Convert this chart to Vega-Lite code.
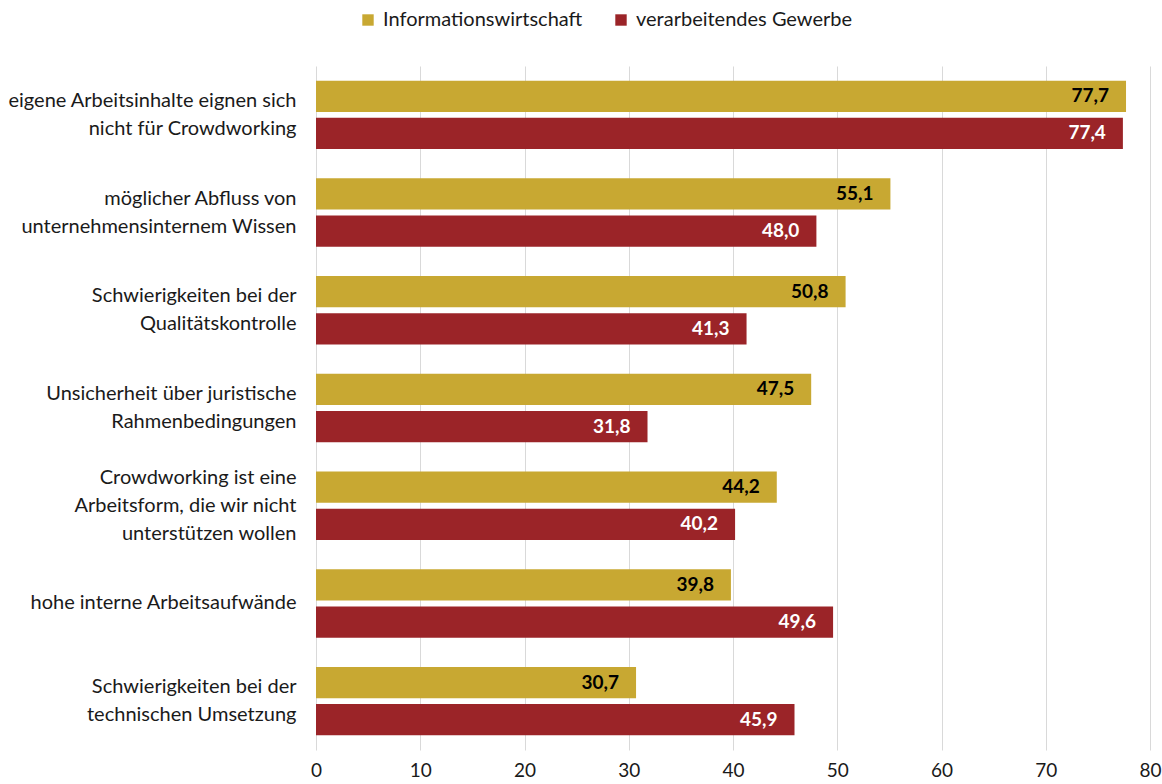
{
  "$schema": "https://vega.github.io/schema/vega-lite/v6.json",
  "autosize": {"type": "none"},
  "width": 834,
  "height": 684,
  "padding": {"left": 316, "top": 66, "right": 12, "bottom": 34},
  "background": "white",
  "config": {
    "font": "Lato",
    "view": {"stroke": null},
    "locale": {
      "number": {"decimal": ",", "thousands": ".", "grouping": [3], "currency": ["", " €"]}
    }
  },
  "data": {
    "values": [
      {"kategorie": "eigene Arbeitsinhalte eignen sich|nicht für Crowdworking", "gruppe": "Informationswirtschaft", "wert": 77.7},
      {"kategorie": "eigene Arbeitsinhalte eignen sich|nicht für Crowdworking", "gruppe": "verarbeitendes Gewerbe", "wert": 77.4},
      {"kategorie": "möglicher Abfluss von|unternehmensinternem Wissen", "gruppe": "Informationswirtschaft", "wert": 55.1},
      {"kategorie": "möglicher Abfluss von|unternehmensinternem Wissen", "gruppe": "verarbeitendes Gewerbe", "wert": 48.0},
      {"kategorie": "Schwierigkeiten bei der|Qualitätskontrolle", "gruppe": "Informationswirtschaft", "wert": 50.8},
      {"kategorie": "Schwierigkeiten bei der|Qualitätskontrolle", "gruppe": "verarbeitendes Gewerbe", "wert": 41.3},
      {"kategorie": "Unsicherheit über juristische|Rahmenbedingungen", "gruppe": "Informationswirtschaft", "wert": 47.5},
      {"kategorie": "Unsicherheit über juristische|Rahmenbedingungen", "gruppe": "verarbeitendes Gewerbe", "wert": 31.8},
      {"kategorie": "Crowdworking ist eine|Arbeitsform, die wir nicht|unterstützen wollen", "gruppe": "Informationswirtschaft", "wert": 44.2},
      {"kategorie": "Crowdworking ist eine|Arbeitsform, die wir nicht|unterstützen wollen", "gruppe": "verarbeitendes Gewerbe", "wert": 40.2},
      {"kategorie": "hohe interne Arbeitsaufwände", "gruppe": "Informationswirtschaft", "wert": 39.8},
      {"kategorie": "hohe interne Arbeitsaufwände", "gruppe": "verarbeitendes Gewerbe", "wert": 49.6},
      {"kategorie": "Schwierigkeiten bei der|technischen Umsetzung", "gruppe": "Informationswirtschaft", "wert": 30.7},
      {"kategorie": "Schwierigkeiten bei der|technischen Umsetzung", "gruppe": "verarbeitendes Gewerbe", "wert": 45.9}
    ]
  },
  "encoding": {
    "y": {
      "field": "kategorie",
      "type": "nominal",
      "sort": null,
      "scale": {"paddingInner": 0.3, "paddingOuter": 0.15},
      "axis": {
        "title": null,
        "ticks": false,
        "domain": false,
        "labelPadding": 20,
        "labelFontSize": 20,
        "labelColor": "#1a1a1a",
        "labelLineHeight": 28,
        "labelLimit": 320,
        "labelExpr": "split(datum.label, '|')",
        "labelOffset": {
          "condition": [
            {"test": "length(split(datum.value, '|')) >= 3", "value": -28},
            {"test": "length(split(datum.value, '|')) == 2", "value": -14}
          ],
          "value": 0
        }
      }
    },
    "yOffset": {
      "field": "gruppe",
      "type": "nominal",
      "sort": ["Informationswirtschaft", "verarbeitendes Gewerbe"],
      "scale": {"paddingInner": 0.16, "paddingOuter": 0}
    },
    "x": {
      "field": "wert",
      "type": "quantitative",
      "scale": {"domain": [0, 80], "nice": false},
      "axis": {
        "title": null,
        "values": [0, 10, 20, 30, 40, 50, 60, 70, 80],
        "grid": true,
        "gridColor": "#d9d9d9",
        "gridWidth": 1,
        "domain": false,
        "ticks": false,
        "labelFlush": false,
        "labelPadding": 11,
        "labelFontSize": 19,
        "labelColor": "#1a1a1a"
      }
    }
  },
  "layer": [
    {
      "mark": {"type": "bar"},
      "encoding": {
        "color": {
          "field": "gruppe",
          "type": "nominal",
          "sort": ["Informationswirtschaft", "verarbeitendes Gewerbe"],
          "scale": {"domain": ["Informationswirtschaft", "verarbeitendes Gewerbe"], "range": ["#C8A832", "#9B2428"]},
          "legend": {
            "title": null,
            "orient": "none",
            "direction": "horizontal",
            "legendX": 42,
            "legendY": -56,
            "symbolType": "square",
            "symbolSize": 130,
            "symbolStrokeWidth": 0,
            "labelFontSize": 20,
            "labelLimit": 400,
            "labelColor": "#1a1a1a",
            "labelOffset": 5,
            "columnPadding": 28
          }
        }
      }
    },
    {
      "mark": {"type": "text", "align": "right", "baseline": "middle", "dx": -17, "fontSize": 19, "fontWeight": "bold"},
      "encoding": {
        "text": {"field": "wert", "type": "quantitative", "format": ".1f"},
        "color": {
          "condition": {"test": "datum.gruppe === 'Informationswirtschaft'", "value": "#000000"},
          "value": "#ffffff"
        }
      }
    }
  ]
}
